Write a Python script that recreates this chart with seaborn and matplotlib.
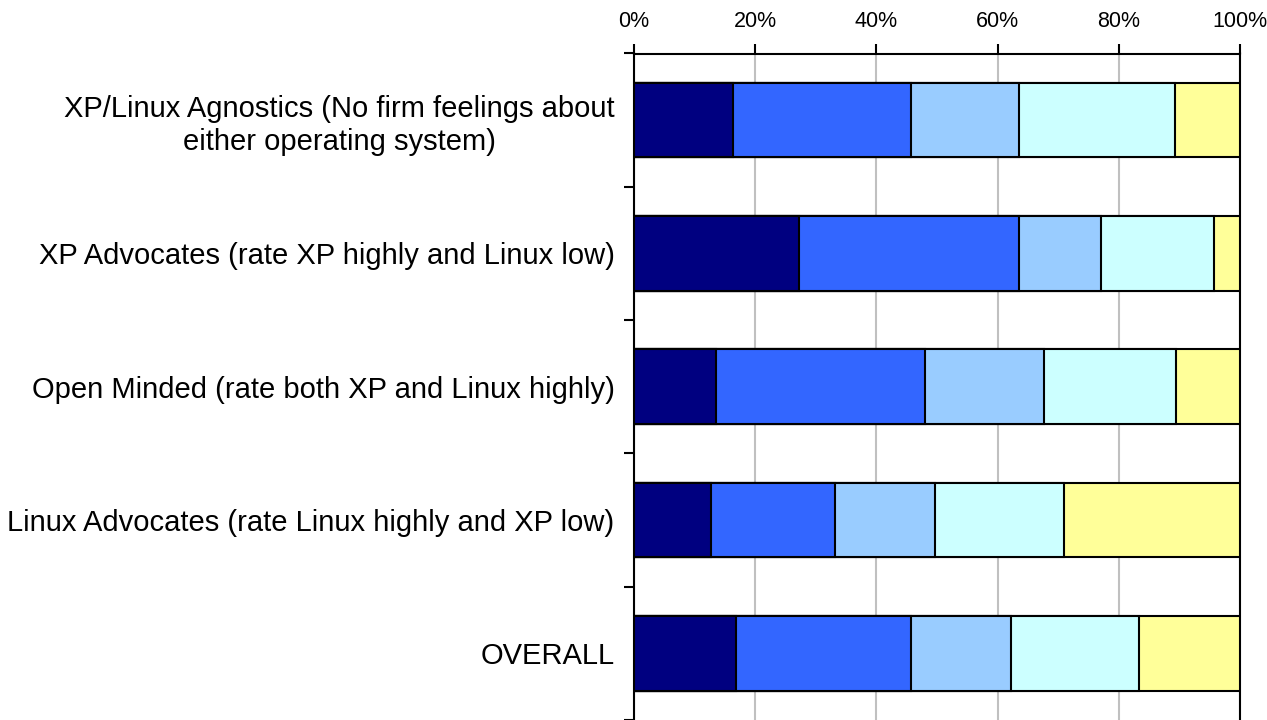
import pandas as pd
import numpy as np
import matplotlib
matplotlib.use("Agg")
import matplotlib.pyplot as plt
import seaborn as sns
from matplotlib.ticker import FixedLocator, PercentFormatter

# Dados (percentual de cada faixa por grupo)
groups = [
    "XP/Linux Agnostics (No firm feelings about\neither operating system)",
    "XP Advocates (rate XP highly and Linux low)",
    "Open Minded (rate both XP and Linux highly)",
    "Linux Advocates (rate Linux highly and XP low)",
    "OVERALL",
]
seg1 = [16.4, 27.2, 13.6, 12.7, 16.9]
seg2 = [29.3, 36.4, 34.4, 20.4, 28.8]
seg3 = [17.9, 13.5, 19.6, 16.5, 16.5]
seg4 = [25.7, 18.6, 21.8, 21.3, 21.2]
seg5 = [10.7, 4.3, 10.6, 29.1, 16.6]
cores = ["#000080", "#3366FF", "#99CCFF", "#CCFFFF", "#FFFF99"]

sns.set_style("white")
plt.rcParams["font.family"] = ["Liberation Sans", "DejaVu Sans"]

df = pd.DataFrame({"grupo": groups, "s1": seg1, "s2": seg2, "s3": seg3, "s4": seg4, "s5": seg5})
series = ["s1", "s2", "s3", "s4", "s5"]
cum = df[series].cumsum(axis=1)

fig = plt.figure(figsize=(12.67, 7.2), dpi=100)
ax = fig.add_axes([634 / 1267, 0.0, (1240 - 634) / 1267, 1 - 53.5 / 720])

# Barras empilhadas: desenhar do maior acumulado para o menor
for s, c in reversed(list(zip(series, cores))):
    sns.barplot(x=cum[s], y=df["grupo"], order=groups, color=c, orient="h", saturation=1,
                width=0.56, edgecolor="black", linewidth=1.5, ax=ax, zorder=3)

ax.set_xlim(0, 100)
ax.set_ylim(4.5, -0.5)
ax.xaxis.tick_top()
ax.xaxis.set_label_position("top")
ax.set_xticks([0, 20, 40, 60, 80, 100])
ax.xaxis.set_major_formatter(PercentFormatter(decimals=0))
ax.tick_params(axis="x", length=7, width=1.5, color="black", labelsize=15.5, pad=8.5,
               labelcolor="black")
ax.grid(axis="x", color="#c0c0c0", linewidth=1.5, zorder=0)
ax.set_axisbelow(True)

# rótulos no centro sem marca, marcas nos limites entre grupos
ax.tick_params(axis="y", which="major", length=0, labelsize=21, pad=14, labelcolor="black")
ax.yaxis.set_minor_locator(FixedLocator(np.arange(-0.5, 5, 1.0)))
ax.tick_params(axis="y", which="minor", length=7, width=1.5, color="black", left=True)
for lbl in ax.get_yticklabels():
    lbl.set_multialignment("center")

ax.set_xlabel("")
ax.set_ylabel("")
for side in ["top", "left", "right"]:
    ax.spines[side].set_color("black")
    ax.spines[side].set_linewidth(1.5)
ax.spines["bottom"].set_visible(False)

fig.savefig("out.png", dpi=100)
